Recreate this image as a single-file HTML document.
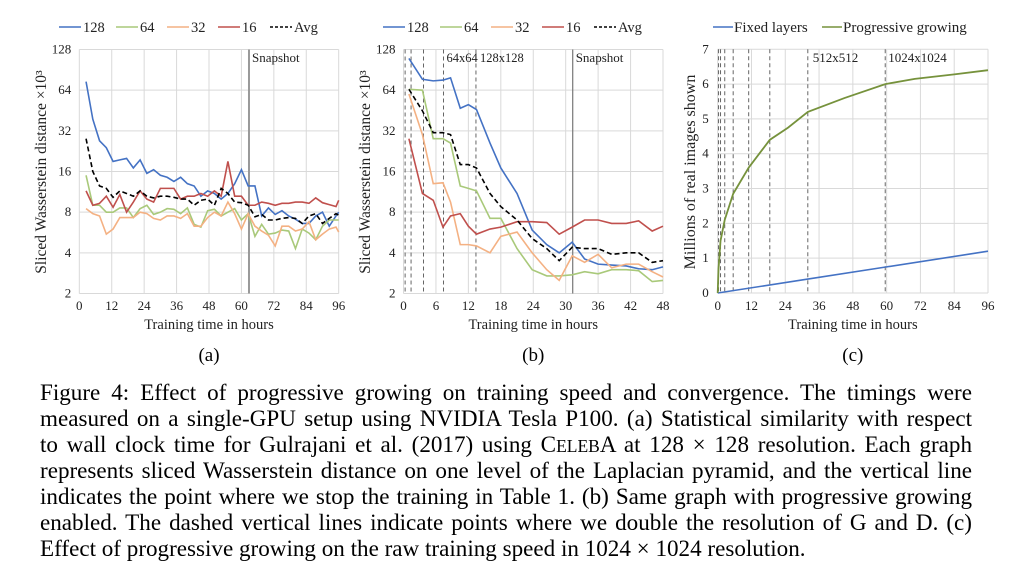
<!DOCTYPE html>
<html><head><meta charset="utf-8"><style>
body{margin:0;background:#fff;width:1012px;height:578px;overflow:hidden;position:relative;font-family:"Liberation Serif",serif;}
svg{position:absolute;left:0;top:0}
.cap{position:absolute;left:40px;width:932px;font-size:23.1px;line-height:26px;text-align:justify;text-align-last:justify;white-space:nowrap;color:#000}
.last{text-align-last:left}
</style></head><body>
<svg id="fig" width="1012" height="578" font-family="Liberation Serif, serif"></svg>
<div class="cap" style="top:379px">Figure 4: Effect of progressive growing on training speed and convergence. The timings were</div>
<div class="cap" style="top:405px">measured on a single-GPU setup using NVIDIA Tesla P100. (a) Statistical similarity with respect</div>
<div class="cap" style="top:431px">to wall clock time for Gulrajani et al. (2017) using C<span style="font-size:17.5px">ELEB</span>A at 128 × 128 resolution. Each graph</div>
<div class="cap" style="top:457px">represents sliced Wasserstein distance on one level of the Laplacian pyramid, and the vertical line</div>
<div class="cap" style="top:483px">indicates the point where we stop the training in Table 1. (b) Same graph with progressive growing</div>
<div class="cap" style="top:509px">enabled. The dashed vertical lines indicate points where we double the resolution of G and D. (c)</div>
<div class="cap last" style="top:535px">Effect of progressive growing on the raw training speed in 1024 × 1024 resolution.</div>
<script>
// Chart (a) data
const aHours=[2.5,5,7.5,10,12.5,15,17.5,20,22.5,25,27.5,30,32.5,35,37.5,40,42.5,45,47.5,50,52.5,55,57.5,60,62.5,65,67.5,70,72.5,75,77.5,80,82.5,85,87.5,90,92.5,95,96];
const a128=[74,39,27,24,19,19.5,20,17,19.5,15.5,16.5,15,14.5,13.5,14.5,13,12.5,10.5,11.5,11,10,11,13,16.5,12.5,12.5,7.5,8.6,7.7,8.2,7.5,7.1,6.6,6.6,7.5,8,6.3,7.5,8];
const a64=[15,9,9,8,8,8.6,8.6,7.3,8.5,9,7.7,8,8.5,8.4,7.8,8.6,6.5,6.2,8.2,8.4,7.5,8,8.5,7,7.8,5.3,6.5,5.5,5.6,5.9,5.8,4.3,6,5.6,5,6.3,7,7,7];
const a32=[8.5,7.8,7.5,5.5,6,7.3,7.3,7.3,8,7.8,7.2,7,7.5,7.5,7.2,7.8,6.3,6.3,7.3,8,7.5,9.5,7.8,6,7.8,6.3,5.8,5.4,4.5,6.3,6.3,5.8,6,6.8,5,5.5,6,6.2,5.7];
const a16=[11.5,9,9.3,10.5,8.7,10.8,8,9.5,11.5,10,9.5,12,12,12,10,10.5,10.5,11,10.5,11.5,10.5,19,10.5,10.5,9,9,9.5,9.3,9,9.3,9.3,9.5,9.5,9.3,10.2,9.4,9.1,8.8,9.8];
const aAvg=[28,16,12.5,12,10.3,11.5,11,10.5,11.5,10.5,10.2,10.5,10.5,10.3,10,10,9,9.8,10,9,12,11,9.5,9.4,9,7.4,7.7,7,7,7.2,7.3,7.2,6.6,7.5,7.8,6.6,7.2,7.8,7.6];
const aSnapshot=62.8;
const aXTicks=[0,12,24,36,48,60,72,84,96];
const logTicks=[2,4,8,16,32,64,128];
// Chart (b) data
const bHours=[1,3.5,5.5,7.3,8.7,10.5,12,13.5,16,18,21,23.8,26.5,28.8,31.2,33.5,36,38.5,41.2,43.5,46,48];
const b128=[110,77,75,76,79,47,50,46,26,17,11,5.9,4.6,4,4.8,3.6,3.3,3.25,3.2,3.05,3,3.15];
const b64=[65,64,28,28,26,12.5,12,11.5,7.2,7.2,4.3,3,2.7,2.7,2.75,2.9,2.8,3,3,2.95,2.45,2.5];
const b32=[60,30,13,13.2,9.5,4.6,4.6,4.5,4,5.3,5.7,4,3,2.5,3.8,3.4,3.9,3.1,3.3,3.3,2.9,2.65];
const b16=[28,11,9.8,6.2,7.5,7.8,6.3,5.5,6,6.2,6.8,6.8,6.7,5.5,6.2,7,7,6.6,6.6,6.9,5.8,6.3];
const bAvg=[65,45,31,31,30,18,18,17,11,8.8,7,5.1,4.3,3.5,4.4,4.3,4.3,3.9,4,4,3.4,3.5];
const bDoubling=[0.3,1.4,3.7,7.4,13.4];
const bSnapshot=31.3;
const bXTicks=[0,6,12,18,24,30,36,42,48];
// Chart (c) data
const cProgHours=[0,0.3,1,2.5,5.5,11,18.5,25,32,45,59.5,70,84,96];
const cProg=[0,0.7,1.5,2.1,2.85,3.6,4.4,4.75,5.2,5.6,6.0,6.15,6.28,6.4];
const cFixedHours=[0,32,60,96];
const cFixed=[0,0.4,0.75,1.2];
const cDoubling=[0.3,1,2.5,5.5,11,18.5,32,59.5];
const cXTicks=[0,12,24,36,48,60,72,84,96];
const cYTicks=[0,1,2,3,4,5,6,7];

const NS='http://www.w3.org/2000/svg';
const svg=document.getElementById('fig');
function mk(tag,attrs,parent){const e=document.createElementNS(NS,tag);for(const k in attrs)e.setAttribute(k,attrs[k]);(parent||svg).appendChild(e);return e;}
function txt(s,x,y,attrs,parent){const t=mk('text',Object.assign({x:x,y:y,'font-size':13,fill:'#222'},attrs||{}),parent);t.textContent=s;return t;}
const C={c128:'#4472c4',c64:'#a9c97a',c32:'#f4b183',c16:'#c0504d',avg:'#000'};
const pTop=49.5,pBot=293.5;

function logChart(id,x0,x1,xmax,xticks,hours,series,snapshot,doubling,ylabX,legendX){
  const g=mk('g',{});
  
  
  const sx=v=>x0+(x1-x0)*v/xmax;
  const sy=v=>pBot-(pBot-pTop)*Math.log2(v/2)/6;
  xticks.forEach(t=>{const l=mk('line',{x1:sx(t),x2:sx(t),y1:pTop,y2:pBot,stroke:'#d9d9d9','stroke-width':1},g);
    
    const tl=txt(String(t),sx(t),310,{'text-anchor':'middle'},g);
    });
  logTicks.forEach(t=>{const l=mk('line',{x1:x0,x2:x1,y1:sy(t),y2:sy(t),stroke:'#d9d9d9','stroke-width':1},g);
    
    const tl=txt(String(t),x0-8,sy(t)+4,{'text-anchor':'end'},g);
    });
  doubling.forEach(d=>{const l=mk('line',{x1:sx(d),x2:sx(d),y1:pTop,y2:pBot,stroke:'#666','stroke-width':1,'stroke-dasharray':'4,3'},g);
    });
  const sn=mk('line',{x1:sx(snapshot),x2:sx(snapshot),y1:pTop,y2:pBot,stroke:id==='a'?'#999':'#777','stroke-width':id==='a'?2:1.2},g);
  
  const st=txt('Snapshot',sx(snapshot)+3,62,{'font-size':13},g);
  
  if(id==='b'){const r1=txt('64x64',sx(7.4)+3,62,{'font-size':12.5},g);
    const r2=txt('128x128',sx(13.4)+4,62,{'font-size':12.5},g);}
  const names=['128','64','32','16','avg'];
  const cols=[C.c128,C.c64,C.c32,C.c16,C.avg];
  series.forEach((s,i)=>{const p=mk('polyline',{points:s.map((v,j)=>sx(hours[j])+','+sy(v)).join(' '),fill:'none',stroke:cols[i],'stroke-width':1.6,'stroke-dasharray':i===4?'5,3':'none'},g);
    });
  const yl=txt('Sliced Wasserstein distance ×10³',0,0,{'font-size':15.5,'text-anchor':'middle',transform:'translate('+ylabX+',172) rotate(-90)'},g);
  
  const xl=txt('Training time in hours',(x0+x1)/2,329,{'font-size':14.5,'text-anchor':'middle'},g);
  
  const pl=txt('('+id+')',(x0+x1)/2,361,{'font-size':19,'text-anchor':'middle',fill:'#000'},g);
  
  const labs=['128','64','32','16','Avg'];
  const offs=[0,57,108,159,211];
  labs.forEach((l,i)=>{const lx=legendX+offs[i];
    const ln=mk('line',{x1:lx,x2:lx+22,y1:27,y2:27,stroke:cols[i],'stroke-width':1.6,'stroke-dasharray':i===4?'3,2':'none'},g);
    
    const t=txt(l,lx+24,32,{'font-size':14.5},g);
    });
}
logChart('a',79.3,338.7,96,aXTicks,aHours,[a128,a64,a32,a16,aAvg],aSnapshot,[],46,59);
logChart('b',403.5,663,48,bXTicks,bHours,[b128,b64,b32,b16,bAvg],bSnapshot,bDoubling,370,383);

// Chart c
(function(){
  const g=mk('g',{});
  
  
  const x0=717.7,x1=988,ctop=49.3,cbot=293;
  const sx=v=>x0+(x1-x0)*v/96;
  const sy=v=>cbot-(cbot-ctop)*v/7;
  cXTicks.forEach(t=>{const l=mk('line',{x1:sx(t),x2:sx(t),y1:ctop,y2:cbot,stroke:'#d9d9d9'},g);
    
    const tl=txt(String(t),sx(t),310,{'text-anchor':'middle'},g);
    });
  cYTicks.forEach(t=>{const l=mk('line',{x1:x0,x2:x1,y1:sy(t),y2:sy(t),stroke:'#d9d9d9'},g);
    
    const tl=txt(String(t),x0-9,sy(t)+4,{'text-anchor':'end'},g);
    });
  cDoubling.forEach(d=>{const l=mk('line',{x1:sx(d),x2:sx(d),y1:ctop,y2:cbot,stroke:'#666','stroke-dasharray':'4,3'},g);
    });
  const r1=txt('512x512',sx(32)+5,62,{'font-size':13},g);
  const r2=txt('1024x1024',sx(59.5)+3,62,{'font-size':13},g);
  const pf=mk('polyline',{points:cFixed.map((v,j)=>sx(cFixedHours[j])+','+sy(v)).join(' '),fill:'none',stroke:'#4472c4','stroke-width':1.6},g);
  
  const pp=mk('polyline',{points:cProg.map((v,j)=>sx(cProgHours[j])+','+sy(v)).join(' '),fill:'none',stroke:'#76923c','stroke-width':1.8},g);
  
  const yl=txt('Millions of real images shown',0,0,{'font-size':16,'text-anchor':'middle',transform:'translate(695,172) rotate(-90)'},g);
  
  const xl=txt('Training time in hours',(x0+x1)/2,329,{'font-size':14.5,'text-anchor':'middle'},g);
  
  const pl=txt('(c)',(x0+x1)/2,361,{'font-size':19,'text-anchor':'middle',fill:'#000'},g);
  
  const l1=mk('line',{x1:713,x2:733,y1:27,y2:27,stroke:'#4472c4','stroke-width':1.6},g);
  
  const t1=txt('Fixed layers',734,32,{'font-size':15},g);
  
  const l2=mk('line',{x1:822,x2:842,y1:27,y2:27,stroke:'#76923c','stroke-width':1.6},g);
  
  const t2=txt('Progressive growing',843,32,{'font-size':15},g);
  
})();
</script>
</body></html>
